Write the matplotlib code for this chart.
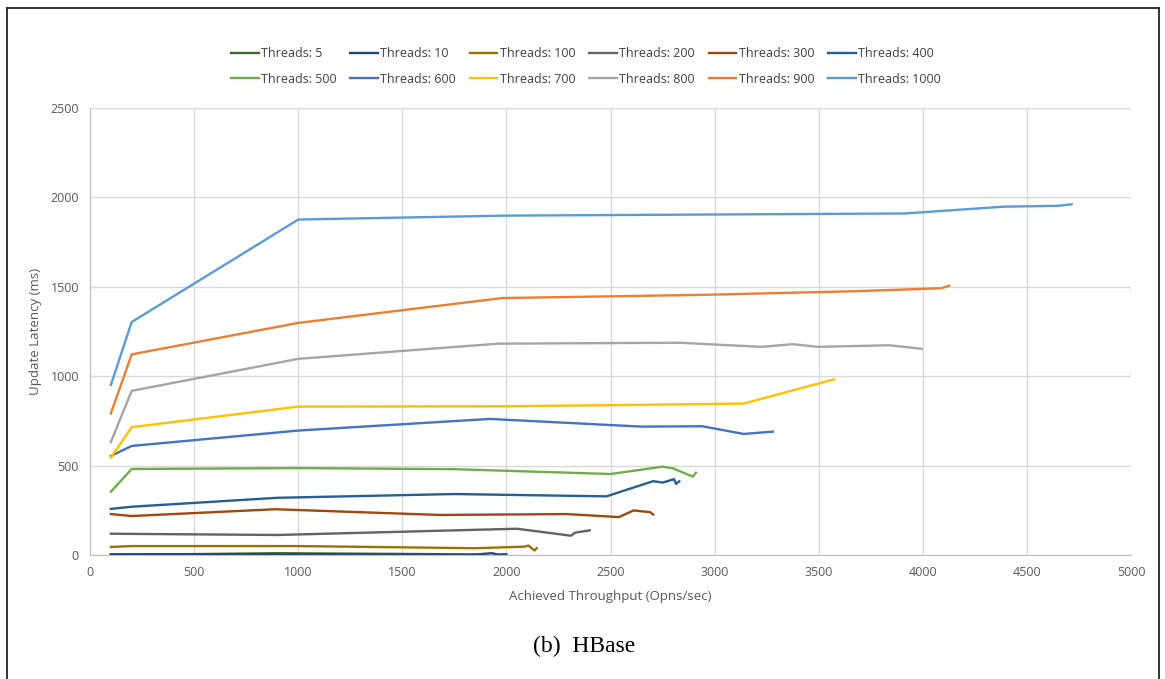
import matplotlib
matplotlib.use("Agg")
import matplotlib.pyplot as plt
from matplotlib.lines import Line2D

# throughput (ops/sec) and update latency (ms) per thread count
t5_x = [100, 500, 900, 1500, 1850]
t5_y = [3, 5, 10, 6, 3]
t10_x = [100, 1000, 1830, 1930, 1960, 2000]
t10_y = [4, 5, 1, 10, 3, 4]
t100_x = [100, 200, 1000, 1850, 2090, 2105, 2135, 2145]
t100_y = [45, 50, 50, 38, 47, 53, 25, 38]
t200_x = [100, 900, 2050, 2310, 2330, 2400]
t200_y = [119, 112, 147, 108, 125, 138]
t300_x = [100, 200, 890, 1680, 2290, 2540, 2610, 2690, 2705]
t300_y = [229, 218, 256, 224, 229, 212, 249, 240, 226]
t400_x = [100, 200, 900, 1750, 2480, 2705, 2750, 2805, 2815, 2830]
t400_y = [258, 270, 320, 341, 328, 413, 405, 424, 398, 412]
t500_x = [100, 200, 1000, 1750, 2500, 2750, 2800, 2895, 2910]
t500_y = [354, 481, 486, 480, 453, 494, 485, 438, 460]
t600_x = [100, 200, 1000, 1920, 2650, 2940, 3140, 3280]
t600_y = [554, 610, 696, 761, 718, 720, 677, 690]
t700_x = [100, 200, 1000, 2000, 2500, 3140, 3575]
t700_y = [545, 715, 830, 832, 838, 847, 983]
t800_x = [100, 200, 1000, 1960, 2830, 3225, 3375, 3495, 3840, 3995]
t800_y = [632, 918, 1097, 1182, 1187, 1164, 1179, 1164, 1173, 1153]
t900_x = [100, 200, 1000, 1980, 2950, 3700, 4090, 4127]
t900_y = [792, 1122, 1298, 1437, 1455, 1476, 1492, 1506]
t1000_x = [100, 200, 1000, 2000, 3915, 4390, 4650, 4715]
t1000_y = [951, 1303, 1876, 1898, 1910, 1948, 1953, 1961]

labels = ["Threads: 5", "Threads: 10", "Threads: 100", "Threads: 200",
          "Threads: 300", "Threads: 400", "Threads: 500", "Threads: 600",
          "Threads: 700", "Threads: 800", "Threads: 900", "Threads: 1000"]
colors = ["#43682B", "#264478", "#997300", "#636363", "#9E480E", "#255E91",
          "#70AD47", "#4472C4", "#FFC000", "#A5A5A5", "#ED7D31", "#5B9BD5"]
series = [(t5_x, t5_y), (t10_x, t10_y), (t100_x, t100_y), (t200_x, t200_y),
          (t300_x, t300_y), (t400_x, t400_y), (t500_x, t500_y), (t600_x, t600_y),
          (t700_x, t700_y), (t800_x, t800_y), (t900_x, t900_y), (t1000_x, t1000_y)]

plt.rcParams['font.family'] = ['Open Sans', 'DejaVu Sans']
fig = plt.figure(figsize=(11.65, 6.79), dpi=100)
ax = fig.add_axes([0.0773, 0.1826, 0.8935, 0.6584])

handles = []
for (xs, ys), lab, col in zip(series, labels, colors):
    h, = ax.plot(xs, ys, color=col, lw=1.7, label=lab, solid_joinstyle='round')
    handles.append(h)

ax.set_xlim(0, 5000)
ax.set_ylim(0, 2500)
ax.set_xticks(range(0, 5001, 500))
ax.set_yticks(range(0, 2501, 500))
ax.grid(True, color="#D9D9D9", lw=1)
ax.set_axisbelow(True)
for s in ["top", "right"]:
    ax.spines[s].set_visible(False)
for s in ["left", "bottom"]:
    ax.spines[s].set_color("#BFBFBF")
ax.tick_params(length=0, labelsize=9, colors="#595959", pad=8)
ax.set_xlabel("Achieved Throughput (Opns/sec)", fontsize=9.5, color="#595959", labelpad=8)
ax.set_ylabel("Update Latency (ms)", fontsize=9.5, color="#595959", labelpad=6)

# legend: two rows of six, reordered so it fills row by row
ncol = 6
order = [r * ncol + c for c in range(ncol) for r in range(2)]
fig.legend(handles=[handles[i] for i in order], ncol=ncol, loc="center",
           bbox_to_anchor=(0.503, 0.902), frameon=False, fontsize=9,
           handlelength=2.2, handletextpad=0.2, columnspacing=1.1,
           labelspacing=1.0, labelcolor="#404040")

fig.text(0.501, 0.048, "(b)  HBase", ha="center", va="center",
         fontsize=17, family="Liberation Serif")

# outer frame, open at the bottom
W, H = 1165, 679
fx = lambda p: p / W
fy = lambda p: 1 - p / H
for xs, ys in [([7, 7], [8, 679]), ([7, 1159], [8, 8]), ([1159, 1159], [8, 679])]:
    fig.add_artist(Line2D([fx(v) for v in xs], [fy(v) for v in ys],
                          color="#222222", lw=1.3))

fig.savefig("out.png", dpi=100)
